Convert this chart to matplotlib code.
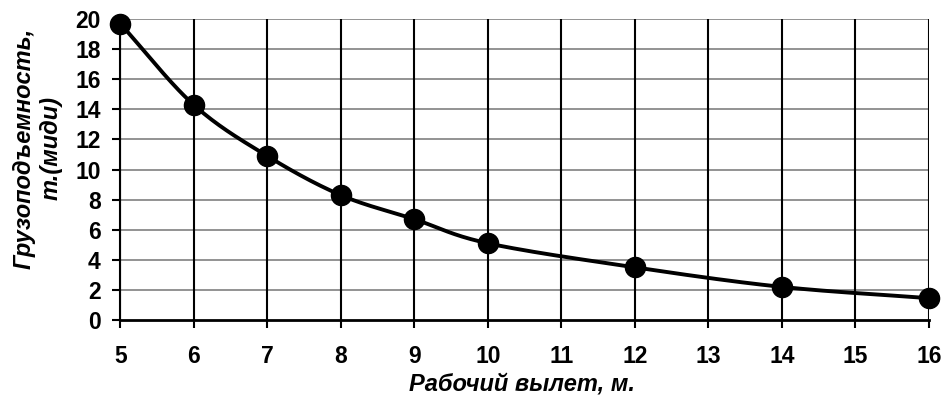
import numpy as np
import matplotlib.pyplot as plt

# Рабочий вылет (м) и грузоподъемность (т)
reach = [5, 6, 7, 8, 9, 10, 12, 14, 16]
capacity = [19.7, 14.3, 10.9, 8.3, 6.7, 5.1, 3.5, 2.2, 1.45]
x_ticks = list(range(5, 17))
y_ticks = list(range(0, 21, 2))


def smooth_curve(x, y, n=30):
    # Catmull-Rom style smoothing, like Excel's smoothed line
    x = np.asarray(x, float)
    y = np.asarray(y, float)
    px = np.concatenate([[2 * x[0] - x[1]], x, [2 * x[-1] - x[-2]]])
    py = np.concatenate([[2 * y[0] - y[1]], y, [2 * y[-1] - y[-2]]])
    xs, ys = [], []
    t = np.linspace(0, 1, n)
    for i in range(1, len(px) - 2):
        p0, p1, p2, p3 = px[i - 1], px[i], px[i + 1], px[i + 2]
        q0, q1, q2, q3 = py[i - 1], py[i], py[i + 1], py[i + 2]
        m1x, m2x = (p2 - p0) / 6, (p3 - p1) / 6
        m1y, m2y = (q2 - q0) / 6, (q3 - q1) / 6
        b0 = (1 - t) ** 3
        b1 = 3 * (1 - t) ** 2 * t
        b2 = 3 * (1 - t) * t ** 2
        b3 = t ** 3
        xs.append(b0 * p1 + b1 * (p1 + m1x) + b2 * (p2 - m2x) + b3 * p2)
        ys.append(b0 * q1 + b1 * (q1 + m1y) + b2 * (q2 - m2y) + b3 * q2)
    return np.concatenate(xs), np.concatenate(ys)


plt.rcParams['font.family'] = ['Liberation Sans', 'DejaVu Sans']

fig = plt.figure(figsize=(9.47, 3.99), dpi=100)
ax = fig.add_axes([0.127, 0.198, 0.854, 0.754])

for v in y_ticks[1:]:
    ax.axhline(v, color='#808080', lw=1.2, zorder=1)
for v in x_ticks:
    ax.axvline(v, color='black', lw=1.5, zorder=1)

sx, sy = smooth_curve(reach, capacity)
ax.plot(sx, sy, color='black', lw=2.8, zorder=3, clip_on=False)
ax.plot(reach, capacity, 'o', color='black', ms=14.5, zorder=4, clip_on=False)

ax.set_xlim(5, 16)
ax.set_ylim(0, 20)
ax.set_xticks(x_ticks)
ax.set_yticks(y_ticks)
ax.set_xticklabels([str(v) for v in x_ticks], fontsize=16.5, fontweight='bold')
ax.set_yticklabels([str(v) for v in y_ticks], fontsize=16.5, fontweight='bold')
ax.tick_params(axis='x', direction='out', length=6, width=1.5, pad=12)
ax.tick_params(axis='y', direction='out', length=6, width=1.5, pad=8)

for s in ['top', 'right']:
    ax.spines[s].set_visible(False)
ax.spines['left'].set_linewidth(1.5)
ax.spines['bottom'].set_linewidth(2)

ax.set_xlabel('Рабочий вылет, м.', fontsize=17, fontweight='bold',
              fontstyle='italic')
ax.xaxis.set_label_coords(0.497, -0.176)
ax.set_ylabel('Грузоподъемность,\nт.(миди)', fontsize=17, fontweight='bold',
              fontstyle='italic', linespacing=1.25)
ax.yaxis.set_label_coords(-0.071, 0.571)

fig.savefig('out.png', dpi=100)
